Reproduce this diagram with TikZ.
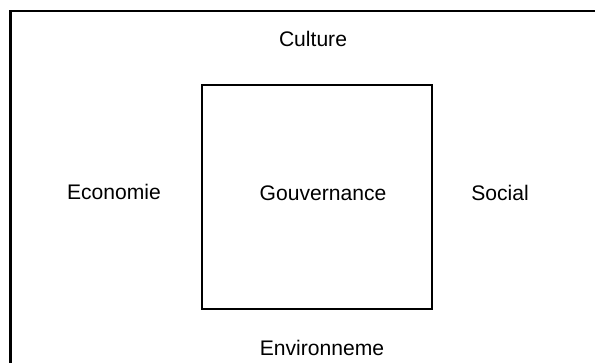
\documentclass[tikz,border=0pt]{standalone}
\usepackage{fontspec}
\setmainfont{Liberation Sans}

\begin{document}
\begin{tikzpicture}[x = 0.02cm, y = -0.02cm,
  every node/.style = {font = \fontsize{12}{14}\selectfont}]
\useasboundingbox (0, 0) rectangle (595, 362);
\clip (0, 0) rectangle (595, 362);
\draw[line width = 1.4pt] (10.5, 11) rectangle (610, 380);
\node (box) [draw, line width = 0.9pt, minimum width = 230*0.02cm,
  minimum height = 224*0.02cm] at (317, 197) {};
\node (gouv) at (323, 193) {Gouvernance};
\node (culture) at (313, 39) {Culture};
\node (economie) at (114, 192) {Economie};
\node (social) at (500, 193) {Social};
\node (environ) at (322, 348) {Environneme};
\end{tikzpicture}
\end{document}
